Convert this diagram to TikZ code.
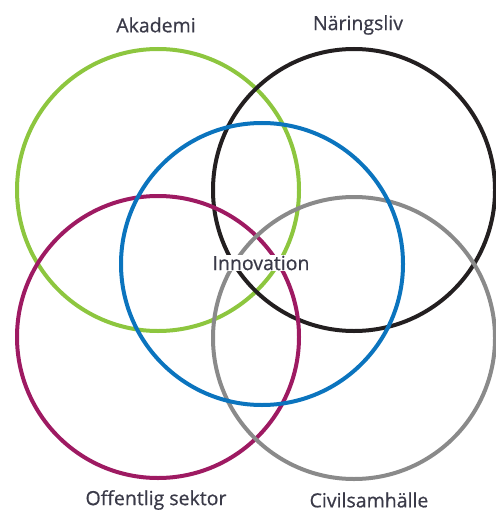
\documentclass[tikz,border=0pt]{standalone}
\usepackage{fontspec}
\newfontfamily\lblfont{Open Sans}[FakeBold=0.6]
\definecolor{cgreen}{HTML}{8DC63F}
\definecolor{cblack}{HTML}{231F20}
\definecolor{cblue}{HTML}{0B74BE}
\definecolor{cpurple}{HTML}{9E1A62}
\definecolor{cgray}{HTML}{8A8A8A}
\definecolor{ctext}{HTML}{3A3A48}
\begin{document}
\begin{tikzpicture}[x=1pt,y=-1pt,
  ring/.style={line width=4pt},
  lbl/.style={font=\lblfont\fontsize{19.5}{22}\selectfont, text=ctext, inner sep=1pt}]
\useasboundingbox (0,0) rectangle (495,513);
\draw[ring, cgreen]  (158,190) circle[radius=141];
\draw[ring, cblack]  (354,190) circle[radius=141];
\draw[ring, cpurple] (158,337) circle[radius=141];
\draw[ring, cgray]   (354,338) circle[radius=141];
\draw[ring, cblue]   (262,264) circle[radius=141];
\node[lbl] (akademi) at (156,25) {Akademi};
\node[lbl] (naring) at (358,25) {Näringsliv};
\node[lbl, fill=white] (innov) at (261,263) {Innovation};
\node[lbl] (offentlig) at (156,500) {Offentlig sektor};
\node[lbl] (civil) at (369,500) {Civilsamhälle};
\end{tikzpicture}
\end{document}
